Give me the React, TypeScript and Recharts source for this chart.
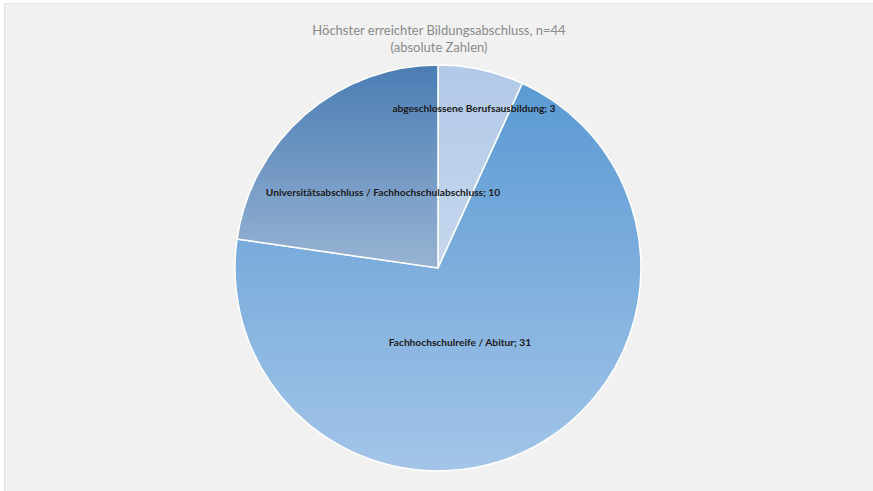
import React from 'react';
import { PieChart, Pie, Cell } from 'recharts';

const categories = [
  'abgeschlossene Berufsausbildung',
  'Fachhochschulreife / Abitur',
  'Universitätsabschluss / Fachhochschulabschluss',
];
const counts = [3, 31, 10];
const titleLines = ['Höchster erreichter Bildungsabschluss, n=44', '(absolute Zahlen)'];

// gradient stops per slice (top -> bottom)
const gradients = [
  ['#b2c9e7', '#c6d7ee'],
  ['#5a99d3', '#a3c5e8'],
  ['#4a7db4', '#98b3d3'],
];
// label position relative to centre, in units of the radius
const labelPos = [
  [0.177, -0.788],
  [0.108, 0.365],
  [-0.271, -0.374],
];

const data = categories.map((name, i) => ({ name, value: counts[i] }));

const W = 873;
const H = 491;
const CX = 438;
const CY = 268;
const R = 203;

const renderLabel = (props: any) => {
  const { cx, cy, outerRadius, index } = props;
  const [fx, fy] = labelPos[index];
  return (
    <text
      x={cx + fx * outerRadius}
      y={cy + fy * outerRadius}
      textAnchor="middle"
      dominantBaseline="central"
      fontFamily="Lato, 'Open Sans', sans-serif"
      fontWeight={700}
      fontSize={10.2}
      fill="#1a1a1a"
    >
      {`${data[index].name}; ${data[index].value}`}
    </text>
  );
};

export default function App() {
  return (
    <div style={{ width: W, height: H, position: 'fixed', left: 0, top: 0, background: '#fff' }}>
      <div
        style={{
          position: 'absolute',
          left: 4,
          top: 3,
          right: 0,
          bottom: 0,
          background: '#f1f1f1',
          borderLeft: '1px solid #e2e2e2',
          borderTop: '1px solid #e2e2e2',
        }}
      />
      <div style={{ position: 'absolute', left: 0, top: 0 }}>
        <PieChart width={W} height={H} margin={{ top: 0, right: 0, bottom: 0, left: 0 }}>
          <defs>
            {gradients.map((g, i) => (
              <linearGradient key={i} id={`grad${i}`} x1="0" y1="0" x2="0" y2="1">
                <stop offset="0%" stopColor={g[0]} />
                <stop offset="100%" stopColor={g[1]} />
              </linearGradient>
            ))}
          </defs>
          <text
            x={CX + 1}
            y={30}
            textAnchor="middle"
            dominantBaseline="central"
            fontFamily="Lato, 'Open Sans', sans-serif"
            fontSize={13}
            fill="#8a8a8a"
          >
            {titleLines[0]}
          </text>
          <text
            x={CX + 1}
            y={47}
            textAnchor="middle"
            dominantBaseline="central"
            fontFamily="Lato, 'Open Sans', sans-serif"
            fontSize={13}
            fill="#8a8a8a"
          >
            {titleLines[1]}
          </text>
          <Pie
            data={data}
            dataKey="value"
            nameKey="name"
            cx={CX}
            cy={CY}
            outerRadius={R}
            startAngle={90}
            endAngle={-270}
            stroke="#ffffff"
            strokeWidth={1.5}
            label={renderLabel}
            labelLine={false}
            isAnimationActive={false}
          >
            {data.map((d, i) => (
              <Cell key={d.name} fill={`url(#grad${i})`} />
            ))}
          </Pie>
        </PieChart>
      </div>
    </div>
  );
}
